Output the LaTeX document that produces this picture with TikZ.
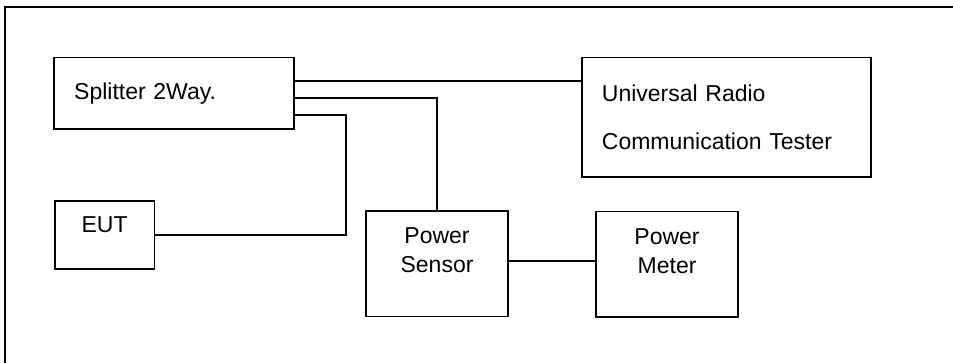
\documentclass[tikz,border=0pt]{standalone}
\usepackage{fontspec}
\setmainfont{Liberation Sans}
\usetikzlibrary{positioning}

\begin{document}
\begin{tikzpicture}[
  x=1pt, y=-1pt,
  unit/.style={rectangle, draw=black, line width=1.8pt, anchor=north west, inner sep=0pt},
  tag/.style={inner sep=0pt, align=center, font=\fontsize{23}{29}\selectfont},
  link/.style={draw=black, line width=1.8pt}
]
  \useasboundingbox (0,0) rectangle (953,363);
  \draw[link] (5,363) -- (5,7.3) -- (953,7.3);
  \node[unit, minimum width=240pt, minimum height=71.6pt, text width=200pt, inner xsep=20pt,
        align=left, font=\fontsize{23}{29}\selectfont] (splitter) at (53.3,56.7) {Splitter 2Way.};
  \node[unit, minimum width=289pt, minimum height=119.3pt, text width=249pt, inner xsep=20pt,
        align=left, font=\fontsize{23}{48}\selectfont] (tester) at (581,56.7) {Universal Radio\\Communication Tester};
  \node[unit, minimum width=99.5pt, minimum height=68.3pt] (eut) at (54,200) {};
  \node[tag, below=16.7pt of eut.north] (eut-txt) {EUT};
  \node[unit, minimum width=142.3pt, minimum height=105.7pt] (sensor) at (365,210) {};
  \node[tag, below=17.7pt of sensor.north] (sensor-txt) {Power\\Sensor};
  \node[unit, minimum width=142.3pt, minimum height=105.7pt] (meter) at (595,210.7) {};
  \node[tag, below=17.3pt of meter.north] (meter-txt) {Power\\Meter};
  % cables from the splitter ports
  \draw[link] ([yshift=12.5pt]splitter.east) coordinate (p1) -- (p1 -| tester.west);
  \draw[link] ([yshift=-4.8pt]splitter.east) -| (sensor.north);
  \draw[link] ([yshift=-21.5pt]splitter.east) -- ++(51,0) |- (eut.east);
  \draw[link] ([yshift=2.5pt]sensor.east) coordinate (p2) -- (p2 -| meter.west);
\end{tikzpicture}
\end{document}
